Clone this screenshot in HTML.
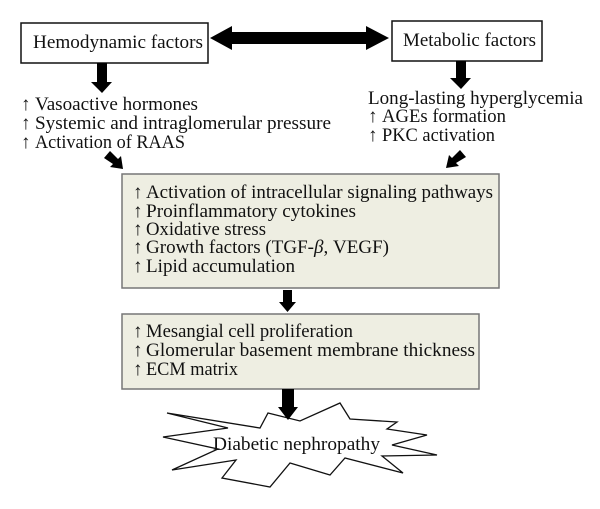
<!DOCTYPE html>
<html><head><style>html,body{margin:0;padding:0;background:#fff}svg{display:block}</style></head>
<body>
<svg width="600" height="509" viewBox="0 0 600 509" xmlns="http://www.w3.org/2000/svg" font-family="Liberation Serif, serif" font-size="19" fill="#111">
<rect x="21" y="23" width="187" height="40" fill="#fff" stroke="#111" stroke-width="1.5"/>
<text x="33" y="48" textLength="170" lengthAdjust="spacingAndGlyphs">Hemodynamic factors</text>
<rect x="392" y="21" width="150" height="40" fill="#fff" stroke="#111" stroke-width="1.5"/>
<text x="403" y="46" textLength="133" lengthAdjust="spacingAndGlyphs">Metabolic factors</text>
<polygon points="210,38 232,26 232,32 366,32 366,26 389,38 366,50 366,44 232,44 232,50" fill="#000"/>
<polygon points="97,63 107,63 107,82 112,82 102,93 91,82 97,82" fill="#000"/>
<polygon points="456,61 466,61 466,78 471,78 461,89 450,78 456,78" fill="#000"/>
<g>
<text x="21" y="110">↑</text><text x="35" y="110" textLength="163" lengthAdjust="spacingAndGlyphs">Vasoactive hormones</text>
<text x="21" y="129">↑</text><text x="35" y="129" textLength="296" lengthAdjust="spacingAndGlyphs">Systemic and intraglomerular pressure</text>
<text x="21" y="148">↑</text><text x="35" y="148" textLength="150" lengthAdjust="spacingAndGlyphs">Activation of RAAS</text>
</g>
<g>
<text x="368" y="104" textLength="215" lengthAdjust="spacingAndGlyphs">Long-lasting hyperglycemia</text>
<text x="368" y="122">↑</text><text x="382" y="122" textLength="124" lengthAdjust="spacingAndGlyphs">AGEs formation</text>
<text x="368" y="141">↑</text><text x="382" y="141" textLength="113" lengthAdjust="spacingAndGlyphs">PKC activation</text>
</g>
<polygon points="104,158 110,151 118,159 121,156 123,169 110,167 113,164" fill="#000"/>
<polygon points="466,157 460,150 452,158 449,155 446,168 459,166 456,163" fill="#000"/>
<rect x="122" y="174" width="377" height="114" fill="#eeeee2" stroke="#777" stroke-width="1.5"/>
<g>
<text x="133" y="198">↑</text><text x="146" y="198" textLength="347" lengthAdjust="spacingAndGlyphs">Activation of intracellular signaling pathways</text>
<text x="133" y="217">↑</text><text x="146" y="217" textLength="210" lengthAdjust="spacingAndGlyphs">Proinflammatory cytokines</text>
<text x="133" y="235">↑</text><text x="146" y="235" textLength="120" lengthAdjust="spacingAndGlyphs">Oxidative stress</text>
<text x="133" y="253">↑</text><text x="146" y="253" textLength="243" lengthAdjust="spacingAndGlyphs">Growth factors (TGF-<tspan font-style="italic">β</tspan>, VEGF)</text>
<text x="133" y="272">↑</text><text x="146" y="272" textLength="149" lengthAdjust="spacingAndGlyphs">Lipid accumulation</text>
</g>
<polygon points="283,290 292,290 292,302 296,302 287.5,312 279,302 283,302" fill="#000"/>
<rect x="122" y="314" width="357" height="75" fill="#eeeee2" stroke="#777" stroke-width="1.5"/>
<g>
<text x="133" y="337">↑</text><text x="146" y="337" textLength="207" lengthAdjust="spacingAndGlyphs">Mesangial cell proliferation</text>
<text x="133" y="356">↑</text><text x="146" y="356" textLength="329" lengthAdjust="spacingAndGlyphs">Glomerular basement membrane thickness</text>
<text x="133" y="375">↑</text><text x="146" y="375" textLength="92" lengthAdjust="spacingAndGlyphs">ECM matrix</text>
</g>
<polygon points="167,413 228,428 163,437 218,449 172,470 236,460 222,478 270,487 290,463 330,475 345,458 403,473 382,456 437,455 392,445 427,435 387,429 397,422 350,419 340,403 300,421 268,413 260,428" fill="#fff" stroke="#111" stroke-width="1.3"/>
<polygon points="282,389 294,389 294,407 298,407 288,420 278,407 282,407" fill="#000"/>
<text x="213" y="450" textLength="167" lengthAdjust="spacingAndGlyphs">Diabetic nephropathy</text>
</svg>
</body></html>
